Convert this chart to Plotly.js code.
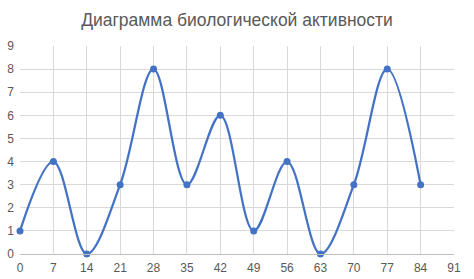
<!DOCTYPE html>
<html><head><meta charset="utf-8">
<script src="https://cdn.plot.ly/plotly-3.0.1.min.js"></script>
<style>html,body{margin:0;padding:0;background:#fff}#c{width:474px;height:279px}</style>
</head><body><div id="c"></div>
<script>
const days = [0, 7, 14, 21, 28, 35, 42, 49, 56, 63, 70, 77, 84];
const activity = [1, 4, 0, 3, 8, 3, 6, 1, 4, 0, 3, 8, 3];
const xTicks = [0, 7, 14, 21, 28, 35, 42, 49, 56, 63, 70, 77, 84, 91];
const yTicks = [0, 1, 2, 3, 4, 5, 6, 7, 8, 9];
const titleText = "Диаграмма биологической активности";

Plotly.newPlot("c", [{
  x: days, y: activity, type: "scatter", mode: "lines+markers",
  line: {shape: "spline", smoothing: 1, color: "#4472c4", width: 2.25},
  marker: {size: 7, color: "#4472c4"},
  cliponaxis: false
}], {
  width: 474, height: 279,
  margin: {l: 20, r: 20, t: 46, b: 25},
  paper_bgcolor: "#fff", plot_bgcolor: "#fff",
  font: {family: "Liberation Sans, Arial, sans-serif", color: "#595959", size: 12},
  title: {text: titleText, font: {size: 17.5, color: "#595959"}, x: 0.5, xanchor: "center", y: 0.93, yanchor: "middle"},
  showlegend: false,
  xaxis: {range: [0, 91], tickvals: xTicks, ticktext: xTicks.map(String), showgrid: true, gridcolor: "#d9d9d9", gridwidth: 1, zeroline: false, showline: true, linecolor: "#bfbfbf", ticks: "", ticklabelstandoff: 3, fixedrange: true},
  yaxis: {range: [0, 9], tickvals: yTicks, ticktext: yTicks.map(String), showgrid: true, gridcolor: "#d9d9d9", gridwidth: 1, zeroline: false, showline: false, ticks: "", ticklabelstandoff: 5, fixedrange: true}
}, {staticPlot: true});
</script></body></html>
